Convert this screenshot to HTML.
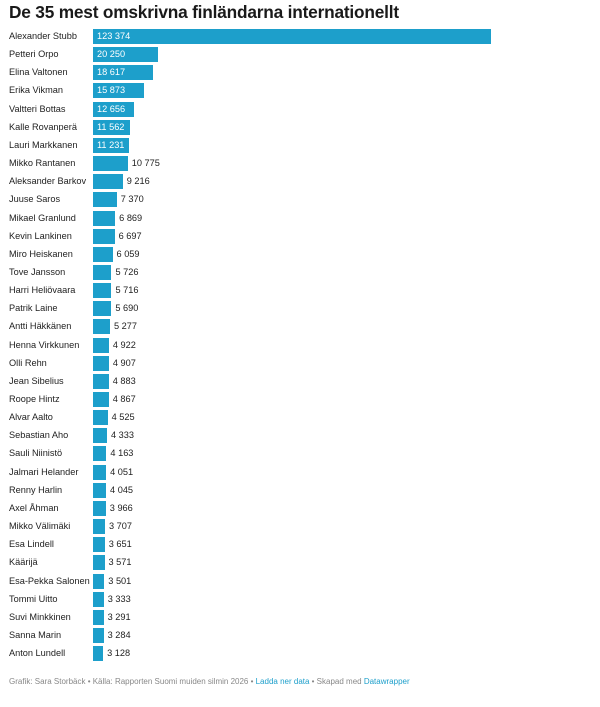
<!DOCTYPE html>
<html><head><meta charset="utf-8"><style>
body{margin:0;background:#fff;width:600px;height:707px;position:relative;font-family:"Liberation Sans",sans-serif;overflow:hidden}
.t{position:absolute;left:9px;top:2px;font-size:17.3px;font-weight:bold;color:#1a1a1a;letter-spacing:-0.2px}
.r{position:absolute;left:0;height:15px;width:600px}
.n{position:absolute;left:9px;top:1px;font-size:9.2px;color:#222;line-height:13px;white-space:nowrap}
.b{position:absolute;left:93px;top:0;height:15px;background:#1d9fcb}
.v{position:absolute;top:1px;font-size:9.2px;line-height:13px;color:#222;white-space:nowrap}
.in{color:#fff}
.f{position:absolute;left:9px;top:677px;font-size:8px;color:#888}
.f a{color:#1d9fcb;text-decoration:none}
</style></head><body>
<div class="t">De 35 mest omskrivna finländarna internationellt</div>
<div id="c"></div>
<div class="f">Grafik: Sara Storbäck • Källa: Rapporten Suomi muiden silmin 2026 • <a>Ladda ner data</a> • Skapad med <a>Datawrapper</a></div>
<script>
const d=[["Alexander Stubb",123374],["Petteri Orpo",20250],["Elina Valtonen",18617],["Erika Vikman",15873],["Valtteri Bottas",12656],["Kalle Rovanperä",11562],["Lauri Markkanen",11231],["Mikko Rantanen",10775],["Aleksander Barkov",9216],["Juuse Saros",7370],["Mikael Granlund",6869],["Kevin Lankinen",6697],["Miro Heiskanen",6059],["Tove Jansson",5726],["Harri Heliövaara",5716],["Patrik Laine",5690],["Antti Häkkänen",5277],["Henna Virkkunen",4922],["Olli Rehn",4907],["Jean Sibelius",4883],["Roope Hintz",4867],["Alvar Aalto",4525],["Sebastian Aho",4333],["Sauli Niinistö",4163],["Jalmari Helander",4051],["Renny Harlin",4045],["Axel Åhman",3966],["Mikko Välimäki",3707],["Esa Lindell",3651],["Käärijä",3571],["Esa-Pekka Salonen",3501],["Tommi Uitto",3333],["Suvi Minkkinen",3291],["Sanna Marin",3284],["Anton Lundell",3128]];
let h="";
d.forEach((e,i)=>{const w=e[1]*398/123374,top=29+i*18.15;
const s=e[1].toString().replace(/\B(?=(\d{3})+(?!\d))/g," ");
const inside=i<7;
h+=`<div class="r" style="top:${top}px"><div class="n">${e[0]}</div><div class="b" style="width:${w}px"></div><div class="v ${inside?'in':''}" style="left:${inside?97:93+w+4}px">${s}</div></div>`;});
document.getElementById("c").innerHTML=h;
</script>
</body></html>
